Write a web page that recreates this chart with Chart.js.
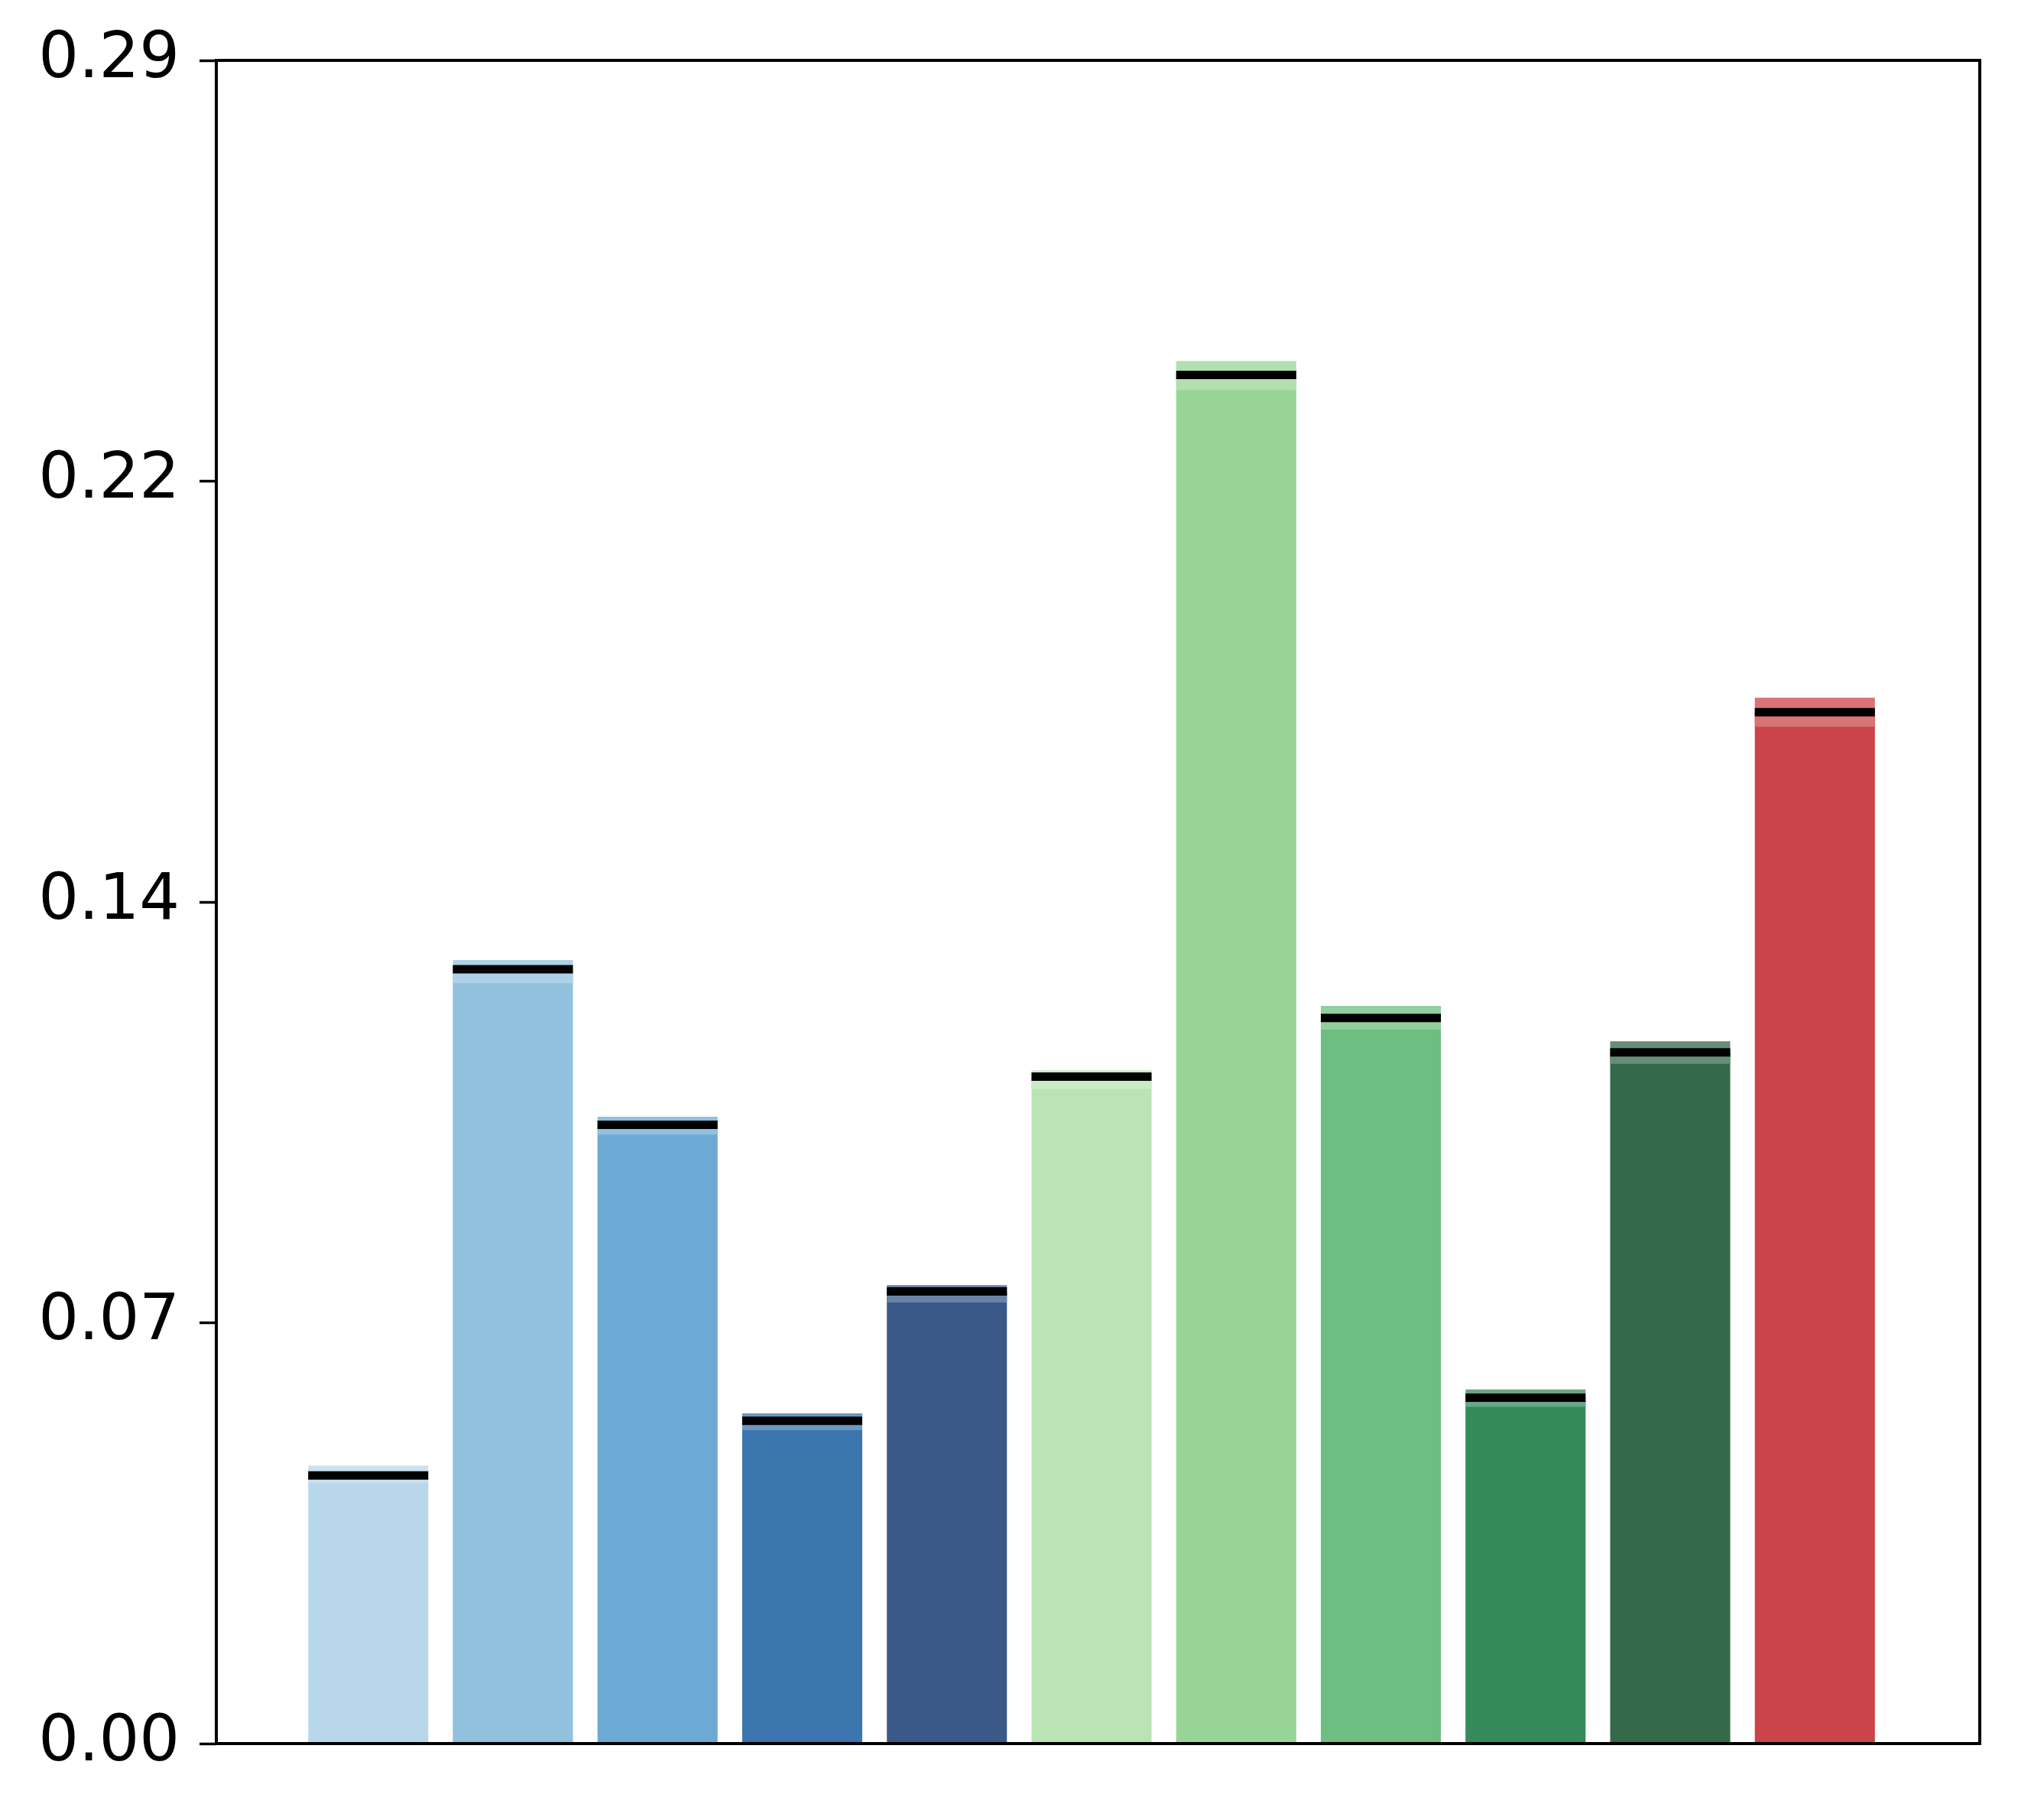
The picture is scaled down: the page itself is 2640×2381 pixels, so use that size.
<!DOCTYPE html>
<html>
<head>
<meta charset="utf-8">
<script src="https://cdn.jsdelivr.net/npm/chart.js@4/dist/chart.umd.min.js"></script>
<style>
  html, body { margin: 0; padding: 0; background: #fff; }
  #wrap { width: 2640px; height: 2381px; }
</style>
</head>
<body>
<div id="wrap"><canvas id="myChart"></canvas></div>
<script>
// données
const categories = ['A1', 'A2', 'A3', 'A4', 'A5', 'B1', 'B2', 'B3', 'B4', 'B5', 'C1'];
const means = [0.0462, 0.1334, 0.1066, 0.0556, 0.0779, 0.1149, 0.2358, 0.1250, 0.0596, 0.1191, 0.1777];
const lows  = [0.0449, 0.1310, 0.1049, 0.0540, 0.0760, 0.1128, 0.2332, 0.1230, 0.0580, 0.1171, 0.1752];
const highs = [0.0479, 0.1350, 0.1080, 0.0569, 0.0790, 0.1160, 0.2382, 0.1271, 0.0610, 0.1210, 0.1802];
const yTicks = [0, 0.0725, 0.145, 0.2175, 0.29];
const yTickLabels = ['0.00', '0.07', '0.14', '0.22', '0.29'];

const colors = ['#b9d7ea', '#92c1de', '#6caad5', '#3b76af', '#3a5988',
                '#bae4b3', '#98d496', '#6dbe80', '#348a59', '#34694a', '#cb444a'];

// couleur plus claire pour la bande (mélange avec du blanc)
function lighten(hex, t) {
  const n = parseInt(hex.slice(1), 16);
  const r = n >> 16, g = (n >> 8) & 255, b = n & 255;
  const m = c => Math.round(c + (255 - c) * t);
  return 'rgb(' + m(r) + ',' + m(g) + ',' + m(b) + ')';
}
const bandColors = colors.map(c => lighten(c, 0.25));

// trait noir pour la moyenne + cadre
const meanLines = {
  id: 'meanLines',
  afterDatasetsDraw(chart) {
    const ctx = chart.ctx;
    const y = chart.scales.y;
    const meta = chart.getDatasetMeta(0);
    ctx.save();
    ctx.strokeStyle = '#000';
    ctx.lineWidth = 11;
    meta.data.forEach((bar, i) => {
      const py = y.getPixelForValue(means[i]);
      ctx.beginPath();
      ctx.moveTo(bar.x - bar.width / 2, py);
      ctx.lineTo(bar.x + bar.width / 2, py);
      ctx.stroke();
    });
    const a = chart.chartArea;
    ctx.lineWidth = 4;
    ctx.strokeRect(a.left, a.top, a.right - a.left, a.bottom - a.top);
    ctx.restore();
  }
};

const data = {
  labels: categories,
  datasets: [
    {
      label: 'moyenne',
      data: means.map((v, i) => ({ x: i, y: v })),
      backgroundColor: colors,
      grouped: false,
      order: 2
    },
    {
      label: 'intervalle',
      data: lows.map((v, i) => ({ x: i, y: [v, highs[i]] })),
      backgroundColor: bandColors,
      grouped: false,
      order: 1
    }
  ]
};

const config = {
  type: 'bar',
  data: data,
  options: {
    responsive: true,
    maintainAspectRatio: false,
    animation: false,
    devicePixelRatio: 1,
    layout: { padding: { left: 0, top: 79, right: 50, bottom: 100 } },
    categoryPercentage: 1,
    barPercentage: 0.83,
    plugins: { legend: { display: false }, tooltip: { enabled: false } },
    scales: {
      x: {
        type: 'linear',
        offset: false,
        min: -1.05,
        max: 11.14,
        ticks: { display: false },
        grid: { display: false },
        border: { display: false },
        afterFit(scale) { scale.height = 0; }
      },
      y: {
        min: 0,
        max: 0.29,
        afterBuildTicks(scale) { scale.ticks = yTicks.map(v => ({ value: v })); },
        ticks: {
          callback: (v, i) => yTickLabels[i],
          color: '#000',
          font: { family: 'DejaVu Sans', size: 83 },
          padding: 26
        },
        grid: { drawOnChartArea: false, tickLength: 22, tickWidth: 3.5, color: '#000' },
        border: { display: false },
        afterFit(scale) { scale.width = 283; }
      }
    }
  },
  plugins: [meanLines]
};

var myChart = new Chart(document.getElementById('myChart'), config);
</script>
</body>
</html>
